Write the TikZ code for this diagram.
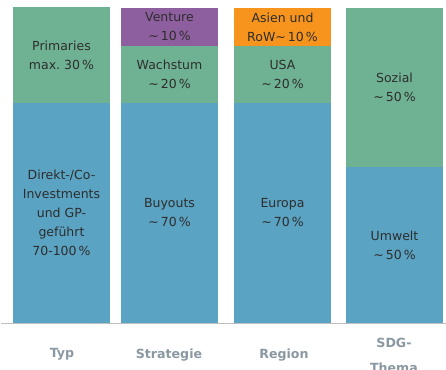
\documentclass[tikz,border=0pt]{standalone}
\usepackage{fontspec}
\setmainfont{DejaVu Sans}
\definecolor{cblue}{RGB}{91,163,194}
\definecolor{cgreen}{RGB}{111,178,147}
\definecolor{cpurple}{RGB}{142,95,158}
\definecolor{corange}{RGB}{247,148,29}
\definecolor{ctext}{RGB}{45,45,45}
\definecolor{clab}{RGB}{138,152,162}
\definecolor{cline}{RGB}{190,190,190}
\newcommand{\ap}{\textasciitilde\,}
\begin{document}
\begin{tikzpicture}[x=1pt,y=-1pt,
  seg/.style={inner sep=0pt,outer sep=0pt,draw=none,minimum width=97pt,anchor=north west},
  txt/.style={font=\fontsize{12.5}{19}\selectfont,text=ctext,align=center},
  lab/.style={font=\fontsize{12.6}{25}\selectfont\bfseries,text=clab,align=center,anchor=north}]
\useasboundingbox (0,0) rectangle (446,369);
% bar 1
\node[seg,fill=cgreen,minimum height=96pt] (b1g) at (13,7) {};
\node[seg,fill=cblue,minimum height=220pt] (b1b) at (13,103) {};
% bar 2
\node[seg,fill=cpurple,minimum height=38pt] (b2p) at (121,8) {};
\node[seg,fill=cgreen,minimum height=57pt] (b2g) at (121,46) {};
\node[seg,fill=cblue,minimum height=220pt] (b2b) at (121,103) {};
% bar 3
\node[seg,fill=corange,minimum height=38pt] (b3o) at (234,8) {};
\node[seg,fill=cgreen,minimum height=57pt] (b3g) at (234,46) {};
\node[seg,fill=cblue,minimum height=220pt] (b3b) at (234,103) {};
% bar 4
\node[seg,fill=cgreen,minimum height=159pt] (b4g) at (346,8) {};
\node[seg,fill=cblue,minimum height=156pt] (b4b) at (346,167) {};
% baseline
\coordinate (l0) at (1,323.5);
\coordinate (l1) at (446,323.5);
\draw[cline,line width=1.5pt] (l0) -- (l1);
% texts
\node[txt] (t1g) at (b1g.center) {Primaries\\max.\ 30\,\%};
\node[txt] (t1b) at (b1b.center) {Direkt-/Co-\\Investments\\und GP-\\geführt\\70-100\,\%};
\node[txt] (t2p) at (b2p.center) {Venture\\\ap10\,\%};
\node[txt] (t2g) at (b2g.center) {Wachstum\\\ap20\,\%};
\node[txt] (t2b) at (b2b.center) {Buyouts\\\ap70\,\%};
\node[txt] (t3o) at (b3o.center) {Asien und\\RoW\ap10\,\%};
\node[txt] (t3g) at (b3g.center) {USA\\\ap20\,\%};
\node[txt] (t3b) at (b3b.center) {Europa\\\ap70\,\%};
\node[txt] (t4g) at (b4g.center) {Sozial\\\ap50\,\%};
\node[txt] (t4b) at (b4b.center) {Umwelt\\\ap50\,\%};
% labels
\node[lab] (L1) at (62,345) {Typ};
\node[lab] (L2) at (169,345) {Strategie};
\node[lab] (L3) at (284,345) {Region};
\node[lab] (L4) at (394,335) {SDG-\\Thema};
\end{tikzpicture}
\end{document}
